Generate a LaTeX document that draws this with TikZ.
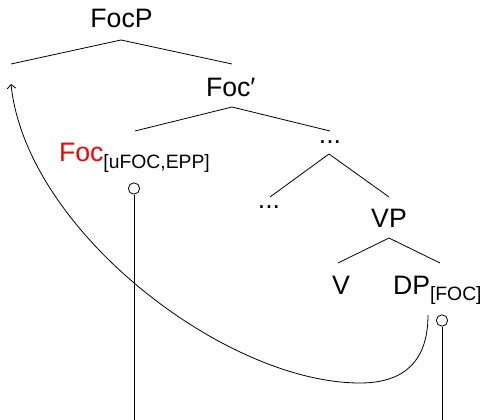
\documentclass[tikz,border=0pt]{standalone}
\usepackage{fontspec}
\setmainfont{Liberation Sans}
\usepackage{xcolor}
\usetikzlibrary{arrows.meta}
\newcommand{\mainsz}{\fontsize{20}{24}\selectfont}
\newcommand{\subsz}{\fontsize{14.5}{16}\selectfont}
\begin{document}
\begin{tikzpicture}[x=0.75pt,y=-0.75pt,
  lab/.style={inner sep=0pt,outer sep=0pt,font=\mainsz},
  branch/.style={line width=0.6pt},
  tie/.style={line width=0.6pt},
  pin/.style={circle,draw,line width=0.6pt,inner sep=0pt,minimum size=8.5pt}]
\useasboundingbox (0,0) rectangle (486,420);
% labels
\node[lab,anchor=base] (focp) at (121.5,28) {FocP};
\node[lab,anchor=base west] (focbar) at (206,97) {Foc′};
\node[lab,anchor=base west] (foc) at (59,162) {\textcolor{red}{Foc}\raisebox{-5.2pt}{\subsz[uFOC,EPP]}};
\node[lab,anchor=base] (dots1) at (330,143.5) {...};
\node[lab,anchor=base] (dots2) at (269,209) {...};
\node[lab,anchor=base] (vp) at (389,228) {VP};
\node[lab,anchor=base] (v) at (341,295) {V};
\node[lab,anchor=base west] (dp) at (393,295) {DP\raisebox{-4.2pt}{\subsz[FOC]}};
% branch points
\coordinate (focp-b) at (121,40);
\coordinate (spec) at (11,64);
\coordinate (focbar-t) at (232,64);
\coordinate (focbar-b) at (232,107);
\coordinate (foc-t) at (135,131);
\coordinate (dots1-t) at (330,131);
\coordinate (dots1-b) at (329,154);
\coordinate (dots2-t) at (270,197);
\coordinate (vp-t) at (389,197);
\coordinate (vp-b) at (389,238);
\coordinate (v-t) at (338,263);
\coordinate (dp-t) at (440,263);
\draw[branch] (spec) -- (focp-b) -- (focbar-t);
\draw[branch] (foc-t) -- (focbar-b) -- (dots1-t);
\draw[branch] (dots2-t) -- (dots1-b) -- (vp-t);
\draw[branch] (v-t) -- (vp-b) -- (dp-t);
% feature pins
\node[pin] (pin1) at (134,188.5) {};
\node[pin] (pin2) at (442,320.5) {};
\coordinate (bot1) at (134,420);
\coordinate (bot2) at (442,420);
\draw[tie] (pin1.south) -- (bot1);
\draw[tie] (pin2.south) -- (bot2);
% movement arrow
\coordinate (mstart) at (428,315);
\coordinate (mlow) at (360,383);
\coordinate (mend) at (11,84);
\draw[tie,-{Straight Barb[length=3pt,width=6.5pt]}] (mstart) .. controls (428,365) and (400,383) .. (mlow)
  .. controls (225,383) and (26,230) .. (mend);
\end{tikzpicture}
\end{document}
